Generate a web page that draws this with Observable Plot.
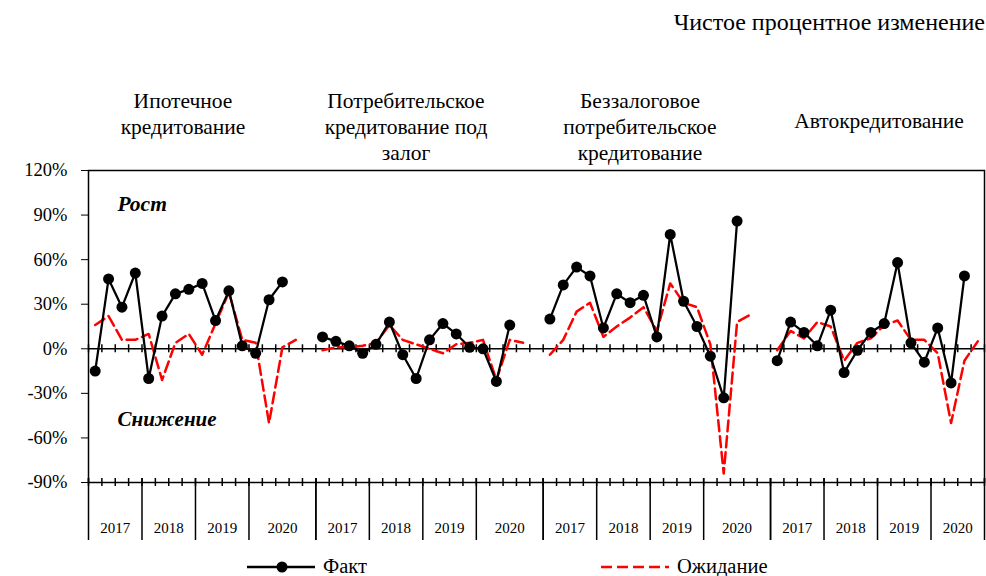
<!DOCTYPE html>
<html><head><meta charset="utf-8">
<script src="https://cdn.jsdelivr.net/npm/d3@7"></script>
<script src="https://cdn.jsdelivr.net/npm/@observablehq/plot@0.6"></script>
<style>
body{margin:0;background:#fff;}
#wrap{position:relative;width:986px;height:576px;font-family:"Liberation Serif","Times New Roman",serif;color:#000;overflow:hidden;background:#fff}
.t{position:absolute;font-size:21.5px;line-height:26px;text-align:center;white-space:nowrap;z-index:2}
#chart{position:absolute;left:0;top:160px;z-index:1}
.lg{position:absolute;top:556px;height:20px;font-size:20.5px;line-height:20px;white-space:nowrap}
</style></head><body>
<div id="wrap">
  <div class="t" style="right:1px;top:9px;text-align:right;font-size:24px">Чистое процентное изменение</div>
  <div id="titles"></div>
  <div id="chart"></div>
  <div id="legend"></div>
</div>
<script>
// ---- data ----
const panelTitles = [
  ["Ипотечное", "кредитование"],
  ["Потребительское", "кредитование под", "залог"],
  ["Беззалоговое", "потребительское", "кредитование"],
  ["Автокредитование"]
];
const years = ["2017", "2018", "2019", "2020"];
const slotsPerYear = [[4, 4, 4, 5], [4, 4, 4, 5], [4, 4, 4, 5], [4, 4, 4, 4]];
const yTicks = [-90, -60, -30, 0, 30, 60, 90, 120];

const factMortgage   = [-15, 47, 28, 51, -20, 22, 37, 40, 44, 19, 39, 2, -3, 33, 45];
const expMortgage    = [16, 22, 6, 6, 10, -21, 4, 10, -4, 17, 38, 6, 4, -50, 1, 6];
const factSecured    = [8, 5, 2, -3, 3, 18, -4, -20, 6, 17, 10, 1, 0, -22, 16];
const expSecured     = [-1, 1, 1, 2, 4, 16, 6, 3, 0, -3, 3, 4, 6, -21, 6, 4];
const factUnsecured  = [20, 43, 55, 49, 14, 37, 31, 36, 8, 77, 32, 15, -5, -33, 86];
const expUnsecured   = [-4, 6, 25, 31, 8, 15, 21, 28, 12, 44, 31, 28, 3, -84, 18, 23];
const factAuto       = [-8, 18, 11, 2, 26, -16, -1, 11, 17, 58, 4, -9, 14, -23, 49];
const expAuto        = [-1, 12, 7, 18, 15, -8, 4, 7, 16, 19, 6, 6, -3, -50, -8, 5];

const factSeries = [factMortgage, factSecured, factUnsecured, factAuto];
const expSeries  = [expMortgage, expSecured, expUnsecured, expAuto];

// ---- build tables ----
const factRows = [], expRows = [], yearLabels = [], yearBounds = [];
let offset = 0;
slotsPerYear.forEach((spy, p) => {
  const start = offset;
  factSeries[p].forEach((v, i) => factRows.push({panel: p, x: start + i + 0.5, v}));
  expSeries[p].forEach((v, i) => expRows.push({panel: p, x: start + i + 0.5, v}));
  let s = start;
  yearBounds.push(s);
  spy.forEach((n, k) => {
    yearLabels.push({x: s + n / 2, year: years[k]});
    s += n;
    yearBounds.push(s);
  });
  offset = s;
});
const nSlots = offset;
const slotBounds = d3.range(nSlots + 1);

// ---- titles (HTML) ----
const titleCenters = [183, 406, 640, 879];
const titleTops = [88, 88, 88, 108];
const tdiv = document.getElementById("titles");
panelTitles.forEach((lines, i) => {
  const d = document.createElement("div");
  d.className = "t";
  d.style.left = (titleCenters[i] - 110) + "px";
  d.style.width = "220px";
  d.style.top = titleTops[i] + "px";
  d.innerHTML = lines.join("<br>");
  tdiv.appendChild(d);
});

// ---- chart ----
const font = "Liberation Serif, Times New Roman, serif";
const chart = Plot.plot({
  width: 986,
  height: 390,
  marginLeft: 88,
  marginRight: 2,
  marginTop: 10,
  marginBottom: 68,
  style: {fontFamily: font, fontSize: "18.5px", color: "#000", background: "transparent", overflow: "visible"},
  x: {domain: [0, nSlots], axis: null},
  y: {domain: [-90, 120], ticks: yTicks, tickFormat: d => d + "%", tickSize: 7, tickPadding: 14, label: null},
  marks: [
    Plot.frame({stroke: "#000", strokeWidth: 1.5}),
    Plot.ruleY([0], {stroke: "#000", strokeWidth: 1.5}),
    Plot.ruleX(slotBounds, {x: d => d, y1: () => 0, y2: () => 0, insetTop: -4, insetBottom: -4, stroke: "#000", strokeWidth: 1.5}),
    Plot.ruleX(slotBounds, {x: d => d, y1: () => -90, y2: () => -90, insetTop: -4, insetBottom: -4, stroke: "#000", strokeWidth: 1.5}),
    Plot.ruleX(yearBounds, {x: d => d, y1: () => -90, y2: () => -90, insetTop: -4, insetBottom: -58, stroke: "#000", strokeWidth: 1.5}),
    Plot.text(yearLabels, {x: "x", y: () => -90, text: "year", dy: 46, fontSize: 15, fill: "#000"}),
    Plot.line(expRows, {x: "x", y: "v", z: "panel", stroke: "#ff0000", strokeWidth: 2.5, strokeDasharray: "11,5"}),
    Plot.line(factRows, {x: "x", y: "v", z: "panel", stroke: "#000", strokeWidth: 2.25}),
    Plot.dot(factRows, {x: "x", y: "v", r: 5.5, fill: "#000"}),
    Plot.text(["Рост"], {frameAnchor: "left", text: d => d, dx: 29, dy: -122, fontSize: 21.5, fontWeight: "bold", fontStyle: "italic", textAnchor: "start", fill: "#000"}),
    Plot.text(["Снижение"], {frameAnchor: "left", text: d => d, dx: 29, dy: 93, fontSize: 21, fontWeight: "bold", fontStyle: "italic", textAnchor: "start", fill: "#000"})
  ]
});
document.getElementById("chart").appendChild(chart);

// ---- legend (HTML) ----
const legendItems = [
  {label: "Факт", left: 247, textLeft: 323, color: "#000", dash: null, dot: true},
  {label: "Ожидание", left: 601, textLeft: 677, color: "#ff0000", dash: "11,5", dot: false}
];
const ldiv = document.getElementById("legend");
legendItems.forEach(it => {
  const ns = "http://www.w3.org/2000/svg";
  const svg = document.createElementNS(ns, "svg");
  svg.setAttribute("width", 70); svg.setAttribute("height", 20);
  svg.style.position = "absolute"; svg.style.left = it.left + "px"; svg.style.top = "557px";
  const ln = document.createElementNS(ns, "line");
  ln.setAttribute("x1", 0); ln.setAttribute("x2", 68); ln.setAttribute("y1", 10); ln.setAttribute("y2", 10);
  ln.setAttribute("stroke", it.color); ln.setAttribute("stroke-width", 2.5);
  if (it.dash) ln.setAttribute("stroke-dasharray", it.dash);
  svg.appendChild(ln);
  if (it.dot) {
    const c = document.createElementNS(ns, "circle");
    c.setAttribute("cx", 35); c.setAttribute("cy", 10); c.setAttribute("r", 5.5); c.setAttribute("fill", it.color);
    svg.appendChild(c);
  }
  ldiv.appendChild(svg);
  const t = document.createElement("div");
  t.className = "lg"; t.style.left = it.textLeft + "px"; t.textContent = it.label;
  ldiv.appendChild(t);
});
</script>
</body></html>
